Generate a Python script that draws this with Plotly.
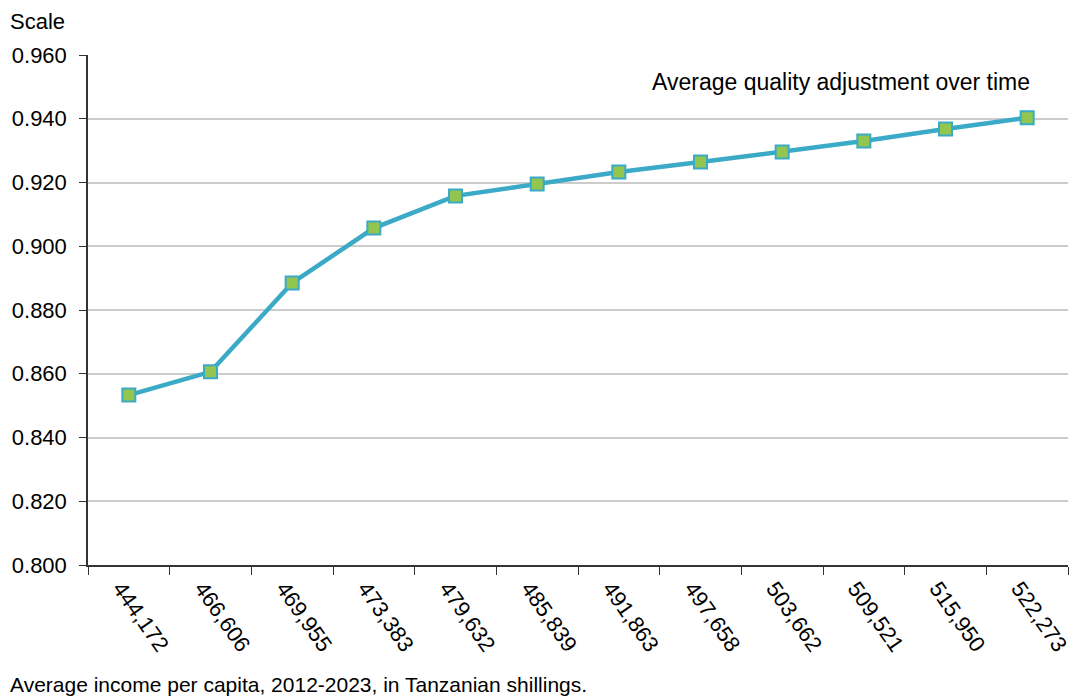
import plotly.graph_objects as go

income_labels = ["444,172", "466,606", "469,955", "473,383", "479,632", "485,839",
                 "491,863", "497,658", "503,662", "509,521", "515,950", "522,273"]
quality_adjustment = [0.8533, 0.8606, 0.8885, 0.9057, 0.9158, 0.9195,
                      0.9233, 0.9264, 0.9296, 0.9330, 0.9368, 0.9403]

FONT = "Liberation Sans, Arial, Helvetica, sans-serif"

# page body has an 8px margin; the figure is sized so the plot lands where the reference is
fig = go.Figure()
fig.add_trace(go.Scatter(
    x=income_labels, y=quality_adjustment, mode="lines+markers",
    line=dict(color="#3AAAC6", width=4.5),
    marker=dict(symbol="square", size=13, color="#92C64E",
                line=dict(color="#3AAAC6", width=2)),
    showlegend=False, cliponaxis=False,
))

fig.update_layout(
    width=1072, height=690,
    margin=dict(l=80, r=12, t=47, b=133),
    paper_bgcolor="white", plot_bgcolor="white",
    font=dict(family=FONT, size=22, color="black"),
    xaxis=dict(
        type="category", tickson="boundaries", tickangle=55,
        showline=True, linecolor="#333333", linewidth=1.5,
        ticks="outside", ticklen=8, tickcolor="#333333",
        showgrid=False, tickfont=dict(size=22, family=FONT),
        range=[-0.5, 11.5], automargin=False, ticklabelshift=-8,
    ),
    yaxis=dict(
        range=[0.8, 0.96], dtick=0.02, tickformat=".3f",
        showline=True, linecolor="#333333", linewidth=1.5,
        ticks="outside", ticklen=7, tickcolor="#333333",
        showgrid=True, gridcolor="#CCCCCC", gridwidth=1.5,
        zeroline=False, tickfont=dict(size=22, family=FONT),
        automargin=False, ticklabelstandoff=8,
    ),
    annotations=[
        dict(text="Scale", xref="paper", yref="paper", x=0, xshift=-80,
             y=1, yshift=34, xanchor="left", yanchor="middle", showarrow=False,
             font=dict(size=22, family=FONT)),
        dict(text="Average quality adjustment over time", xref="paper", yref="paper",
             x=1, xshift=-36, y=1, yshift=-27, xanchor="right", yanchor="middle",
             showarrow=False, font=dict(size=23, family=FONT)),
        dict(text="Average income per capita, 2012-2023, in Tanzanian shillings.",
             xref="paper", yref="paper", x=0, xshift=-80, y=0, yshift=-119,
             xanchor="left", yanchor="middle", showarrow=False,
             font=dict(size=21, family=FONT)),
    ],
)

fig.write_html("out.html")
